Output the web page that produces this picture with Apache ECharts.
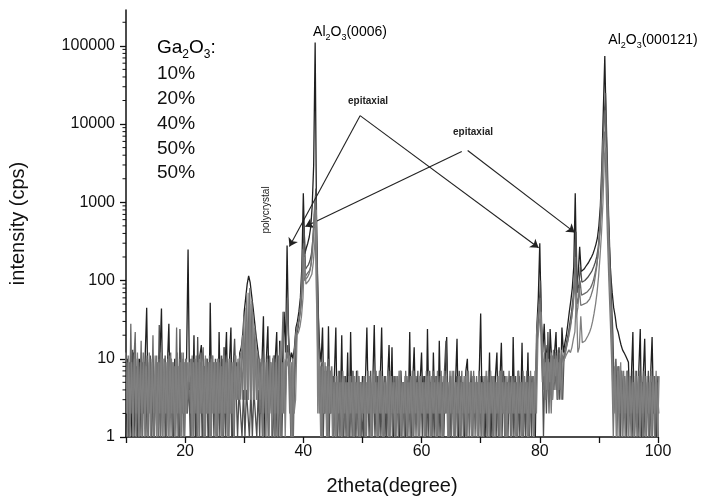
<!DOCTYPE html>
<html><head><meta charset="utf-8">
<script src="https://cdn.jsdelivr.net/npm/echarts@6/dist/echarts.min.js"></script>
<style>html,body{margin:0;padding:0;background:#fff}#c{width:702px;height:501px}</style>
</head><body><div id="c"></div>
<script>
// sampling grid of the scans (2theta, degrees); each scan has its own small start offset
const X_START = 10, X_STEP = 0.25;
const Y_MAX = 287000;

// intensity (cps), one value per grid step, 20 values per 5 degrees
const ga10 = [
1,11,2,9,1,10,2,12,1,9,2,10,1,8,2,12,1,9,2,11,
1,9,2,12,1,10,2,9,1,11,2,9,1,10,2,8,1,12,2,9,
2,9,5,10,1,9,2,11,1,10,2,8,1,11,2,9,1,10,2,9,
1,10,2,9,1,11,2,9,1,10,2,9,1,11,3,10,3,9,20,11,
3,30,3,50,3,40,3,20,3,10,3,8,2,9,1,10,2,9,1,11,
2,10,1,9,17,2,10,1,10,8,11,1,10,2,3,20,22,26,35,60,
200,90,95,100,105,120,170,300,800,2,10,1,8,2,9,1,8,2,7,1,
5,1,6,2,5,1,7,2,5,1,6,2,5,1,6,2,7,1,5,2,
6,1,5,2,6,1,7,2,5,1,6,2,7,1,5,2,6,1,7,2,
5,1,6,2,7,1,5,2,6,1,5,2,6,1,7,2,5,1,6,2,
5,1,6,2,7,1,6,2,5,1,7,2,6,1,5,2,6,1,5,2,
7,1,5,2,6,1,5,2,6,1,7,2,5,1,6,2,5,1,7,2,
5,1,6,2,5,1,7,2,6,1,5,2,7,1,5,2,6,1,5,2,
6,2,5,1,6,2,5,1,7,2,5,1,6,2,5,1,7,2,18,30,
40,16,6,9,4,10,5,12,3,10,6,11,4,10,3,9,9,11,12,13,
12,14,18,22,60,12,14,35,16,16,17,18,20,22,25,30,38,50,70,110,
200,400,1000,4000,5000,1200,250,60,15,2,8,1,7,2,9,1,6,2,7,1,
6,2,5,1,7,2,6,1,5,2,7,1,6,2,5,1,6,2,7,1,
6];
const ga20 = [
12,2,10,1,9,3,11,1,10,2,9,1,12,2,8,1,9,2,10,1,
2,11,1,9,2,10,1,9,2,12,1,10,2,8,1,11,2,9,1,12,
1,10,3,9,2,11,1,10,2,9,1,12,2,8,1,10,2,9,1,11,
2,9,1,10,2,8,1,11,2,9,1,10,2,9,3,8,3,10,12,3,
35,3,70,3,80,3,35,3,15,3,9,2,10,1,9,2,10,1,9,2,
10,1,9,2,11,1,9,2,9,10,12,2,9,1,11,20,24,30,40,80,
250,100,105,110,120,140,200,400,1000,80,12,2,8,1,9,2,7,1,8,2,
6,2,5,1,7,2,5,1,6,2,5,1,6,2,7,1,5,2,6,1,
5,2,6,1,7,2,5,1,6,2,5,1,7,2,6,1,5,2,6,1,
6,2,5,1,6,2,7,1,5,2,6,1,5,2,7,1,6,2,5,1,
6,2,5,1,6,2,5,1,7,2,6,1,5,2,6,1,7,2,5,1,
6,2,7,1,5,2,6,1,5,2,6,1,7,2,5,1,6,2,5,1,
6,1,5,2,7,1,5,2,6,1,5,2,6,1,7,2,5,1,6,2,
5,1,6,2,5,1,7,2,5,1,6,2,5,1,7,2,6,2,20,35,
50,20,5,10,3,12,4,9,2,11,5,12,3,9,4,13,9,10,13,16,
20,25,35,50,150,35,45,80,48,48,50,50,52,55,58,65,75,90,120,160,
260,500,1500,6000,8000,2000,400,100,30,8,1,7,2,8,1,6,2,7,1,6,
2,5,1,7,2,6,1,5,2,6,1,7,2,5,1,6,2,5,1,6,
2];
const ga40 = [
2,9,1,28,2,9,22,1,10,2,17,1,9,2,11,1,10,2,20,1,
9,2,10,1,11,3,9,1,10,2,12,1,8,2,25,1,10,2,9,1,
10,2,4,9,1,10,2,8,1,11,2,9,14,1,10,2,9,1,11,2,
9,1,10,2,8,1,14,2,9,1,10,2,8,1,11,3,9,3,8,16,
3,45,3,70,3,55,3,25,3,12,3,9,1,10,2,9,1,11,2,10,
1,9,2,11,1,10,40,2,9,60,12,2,8,1,10,22,28,32,45,90,
300,110,120,125,135,160,250,500,1200,100,15,8,1,9,2,8,1,10,2,8,
1,6,2,5,1,7,2,6,1,5,2,6,1,7,2,5,1,6,2,5,
2,6,1,5,2,6,1,5,2,7,1,6,2,5,1,6,2,7,1,6,
1,6,2,5,1,6,2,5,1,7,2,6,1,5,2,6,1,5,2,6,
2,5,1,7,2,6,1,5,2,6,1,5,2,7,1,6,2,5,1,7,
1,6,2,5,1,6,2,7,1,5,2,6,1,5,2,7,1,6,2,5,
1,5,2,6,1,7,2,5,1,6,2,5,1,7,2,6,1,5,2,7,
1,6,2,5,1,7,2,5,1,6,2,7,1,5,2,6,1,6,22,40,
60,22,4,12,3,9,2,10,5,13,4,10,3,12,5,11,10,12,15,18,
25,30,45,70,200,50,60,100,65,65,68,70,72,75,80,88,100,120,150,200,
320,600,2000,9000,15000,3000,600,150,45,12,2,9,1,8,2,7,1,6,2,7,
1,6,2,5,1,6,2,7,1,5,2,6,1,5,2,7,1,6,2,5,
1];
const ga50a = [
11,1,9,2,13,1,10,2,8,1,12,2,9,1,10,2,11,1,9,2,
10,2,27,1,9,2,11,1,8,3,10,1,9,2,12,1,24,2,10,1,
9,2,5,1,10,2,11,1,19,2,9,1,10,3,8,1,11,2,9,1,
10,2,9,1,11,2,14,1,9,2,10,1,8,18,4,1,4,2,1,4,
1,4,2,1,4,1,4,2,1,4,1,10,1,9,2,11,1,8,2,10,
11,1,9,2,10,1,8,2,9,15,10,1,9,2,8,20,25,35,50,120,
500,140,150,160,180,220,350,700,1500,150,20,2,9,1,7,2,6,1,7,2,
6,1,5,2,7,1,5,2,6,1,4,2,6,1,5,2,7,1,5,2,
1,5,2,6,1,7,2,5,1,6,2,7,1,5,2,6,1,5,2,6,
2,5,1,6,2,7,1,5,2,6,1,5,2,6,1,5,2,7,1,6,
1,6,2,5,1,7,2,6,1,5,2,6,1,5,2,7,17,5,2,6,
2,5,1,6,2,7,1,5,2,6,1,5,2,7,1,6,2,5,1,6,
2,6,1,5,2,7,1,6,2,5,1,6,2,5,1,7,2,5,1,6,
2,5,1,6,2,7,1,5,2,6,1,5,2,6,1,5,2,7,20,45,
100,18,1,10,2,22,4,11,3,9,12,4,13,3,10,3,12,14,18,22,
30,40,60,100,420,70,90,150,95,95,100,105,110,115,125,135,150,170,200,260,
400,800,2500,12000,25000,5000,800,200,60,20,3,10,2,8,1,7,2,6,1,7,
2,6,1,5,2,7,1,6,2,5,1,6,2,7,1,5,2,6,1,5,
2];
const ga50b = [
1,10,2,9,1,12,2,8,1,10,3,9,2,11,45,2,9,1,10,2,
2,9,1,11,44,2,10,1,8,28,2,9,1,10,3,8,1,11,2,9,
3,10,250,4,9,2,20,1,9,2,11,15,1,8,2,10,1,52,3,9,
2,9,1,22,2,10,1,8,22,2,9,25,1,10,6,9,5,12,14,20,
40,60,90,115,95,65,45,30,20,14,10,2,9,35,1,10,26,2,9,1,
2,10,22,1,17,2,9,40,12,280,20,9,12,10,14,25,30,40,60,150,
1300,220,260,300,360,480,900,3000,110000,400,40,14,9,25,2,8,1,26,2,7,
2,6,25,1,5,2,20,1,6,2,12,1,22,2,5,1,7,2,5,1,
6,1,5,25,2,6,1,5,27,2,6,1,5,25,2,6,1,5,15,2,
14,1,6,2,5,1,7,2,5,1,6,2,22,1,5,14,2,6,1,5,
12,2,6,1,24,2,5,1,12,2,6,1,17,2,5,1,6,19,2,5,
1,6,2,5,18,1,6,2,5,1,7,10,2,5,1,6,2,5,1,6,
38,2,5,1,6,2,12,1,5,2,6,12,1,5,16,2,6,1,5,2,
6,1,19,2,5,1,6,2,16,1,5,2,12,1,6,2,5,1,25,60,
300,30,12,28,8,15,3,24,10,4,12,22,3,14,4,25,12,16,20,28,
40,55,80,150,1300,90,120,270,130,130,140,150,160,170,185,200,220,250,290,350,
500,900,3000,15000,74000,8000,1200,300,120,70,45,35,25,22,18,15,13,12,11,10,
9,2,6,22,1,5,2,7,24,1,6,18,2,5,1,6,19,2,5,1,
6];

const legendTitle = 'Ga2O3:';
const legendRows = ['10%', '20%', '40%', '50%', '50%'];
const xTickLabels = [20, 40, 60, 80, 100];
const yTickLabels = [1, 10, 100, 1000, 10000, 100000];

// annotation arrows: [from, to] in data coordinates (2theta, cps)
const arrowLines = [
  [[49.6, 12800], [37.65, 273]],
  [[49.6, 12800], [79.8, 262]],
  [[66.8, 4450], [40.35, 490]],
  [[67.8, 4590], [85.9, 412]]
];

const FONT = 'Liberation Sans, Arial, sans-serif';
const seriesDefs = [
  { name: '50% b', vals: ga50b, offset: 0,       color: '#202020' },
  { name: '50% a', vals: ga50a, offset: 0.125,   color: '#4e4e4e' },
  { name: '40%',   vals: ga40,  offset: 0.0625,  color: '#6a6a6a' },
  { name: '20%',   vals: ga20,  offset: -0.0625, color: '#767676' },
  { name: '10%',   vals: ga10,  offset: 0.1875,  color: '#808080' }
];
const pairs = (vals, off) => vals.map((v, i) => [+(X_START + off + i * X_STEP).toFixed(4), v]);

const series = seriesDefs.map((s, idx) => {
  const o = {
    name: s.name, type: 'line', data: pairs(s.vals, s.offset), showSymbol: false, symbol: 'none',
    lineStyle: { color: s.color, width: 1.3 }, itemStyle: { color: s.color },
    animation: false, silent: true, z: 2 + idx, clip: true
  };
  if (idx === 0) {
    o.markLine = {
      silent: true, animation: false, symbol: ['none', 'arrow'], symbolSize: 8,
      lineStyle: { color: '#222', width: 1.1, type: 'solid' }, label: { show: false },
      data: arrowLines.map(([a, b]) => [{ coord: a }, { coord: b }])
    };
  }
  return o;
});

const richSub = {
  a: { fontSize: 19, fontFamily: FONT, color: '#111', lineHeight: 26, verticalAlign: 'middle' },
  s: { fontSize: 12, fontFamily: FONT, color: '#111', lineHeight: 12, verticalAlign: 'bottom' },
  b: { fontSize: 14, fontFamily: FONT, color: '#111', lineHeight: 20, verticalAlign: 'middle' },
  t: { fontSize: 9, fontFamily: FONT, color: '#111', lineHeight: 9, verticalAlign: 'bottom' }
};
function subText(str, big, small) {
  return str.replace(/([A-Za-z])(\d)/g, '$1\u0000$2').split('\u0000').map((part, i) => {
    if (i === 0) return '{' + big + '|' + part + '}';
    return '{' + small + '|' + part[0] + '}' + (part.length > 1 ? '{' + big + '|' + part.slice(1) + '}' : '');
  }).join('');
}

const graphics = [];
graphics.push({ type: 'text', x: 157, y: 48, style: { text: subText(legendTitle, 'a', 's'), rich: richSub, align: 'left', textAlign: 'left', verticalAlign: 'middle', textVerticalAlign: 'middle' } });
legendRows.forEach((t, i) => graphics.push({ type: 'text', x: 157, y: 74 + i * 24.8, style: { text: t, fontSize: 19, fontFamily: FONT, fill: '#111', align: 'left', textAlign: 'left', verticalAlign: 'middle', textVerticalAlign: 'middle' } }));
graphics.push({ type: 'text', x: 350, y: 32, style: { text: subText('Al2O3(0006)', 'b', 't'), rich: richSub, align: 'center', textAlign: 'center', verticalAlign: 'middle', textVerticalAlign: 'middle' } });
graphics.push({ type: 'text', x: 653, y: 40, style: { text: subText('Al2O3(000121)', 'b', 't'), rich: richSub, align: 'center', textAlign: 'center', verticalAlign: 'middle', textVerticalAlign: 'middle' } });
[[368, 101], [473, 132]].forEach(p => graphics.push({ type: 'text', x: p[0], y: p[1], style: { text: 'epitaxial', fontSize: 10, fontWeight: 'bold', fontFamily: FONT, fill: '#222', align: 'center', textAlign: 'center', verticalAlign: 'middle', textVerticalAlign: 'middle' } }));
graphics.push({ type: 'text', x: 266, y: 210, rotation: Math.PI / 2, style: { text: 'polycrystal', fontSize: 10, fontFamily: FONT, fill: '#222', align: 'center', textAlign: 'center', verticalAlign: 'middle', textVerticalAlign: 'middle' } });

const lens = [ga10, ga20, ga40, ga50a, ga50b].map(a => a.length);
if (lens.some(l => l !== 361)) graphics.push({ type: 'text', x: 400, y: 300, style: { text: 'LEN ' + lens.join(','), fontSize: 20, fill: 'red' } });

const chart = echarts.init(document.getElementById('c'), null, { renderer: 'canvas' });
chart.setOption({
  animation: false,
  backgroundColor: '#fff',
  grid: { left: 126, right: 44, top: 10, bottom: 62, containLabel: false },
  xAxis: {
    type: 'value', min: 10, max: 100, interval: 10,
    name: '2theta(degree)', nameLocation: 'middle', nameGap: 39,
    nameTextStyle: { fontSize: 20, fontFamily: FONT, color: '#111' },
    axisLine: { show: true, onZero: false, lineStyle: { color: '#111', width: 1.5 } },
    axisTick: { show: true, inside: false, length: 6, lineStyle: { color: '#111', width: 1.3 } },
    axisLabel: { margin: 7, fontSize: 16, fontFamily: FONT, color: '#111',
      formatter: v => (xTickLabels.indexOf(Math.round(v)) >= 0 ? String(Math.round(v)) : '') },
    splitLine: { show: false }
  },
  yAxis: {
    type: 'log', logBase: 10, min: 1, max: Y_MAX,
    name: 'intensity (cps)', nameLocation: 'middle', nameGap: 98, nameRotate: 90,
    nameTextStyle: { fontSize: 20, fontFamily: FONT, color: '#111' },
    axisLine: { show: true, lineStyle: { color: '#111', width: 1.5 } },
    axisTick: { show: true, inside: false, length: 6, lineStyle: { color: '#111', width: 1.3 } },
    axisLabel: { margin: 11, fontSize: 16, fontFamily: FONT, color: '#111', showMaxLabel: false,
      formatter: v => { const r = Math.round(v); return yTickLabels.indexOf(r) >= 0 ? String(r) : ''; } },
    splitLine: { show: false }, minorTick: { show: false }
  },
  graphic: { elements: graphics },
  series: series
});

// logarithmic minor ticks (2..9 x 10^d) on the y axis, placed through the axis scale
const minorTickEls = [];
for (let d = 0; d <= 5; d++) {
  for (let k = 2; k <= 9; k++) {
    const v = k * Math.pow(10, d);
    if (v >= Y_MAX) continue;
    const p = chart.convertToPixel({ gridIndex: 0 }, [X_START, v]);
    if (!p) continue;
    minorTickEls.push({ type: 'line', z: 50, shape: { x1: p[0] - 3.5, y1: p[1], x2: p[0], y2: p[1] }, style: { stroke: '#111', lineWidth: 1 } });
  }
}
chart.setOption({ graphic: { elements: graphics.concat(minorTickEls) } });
</script></body></html>
